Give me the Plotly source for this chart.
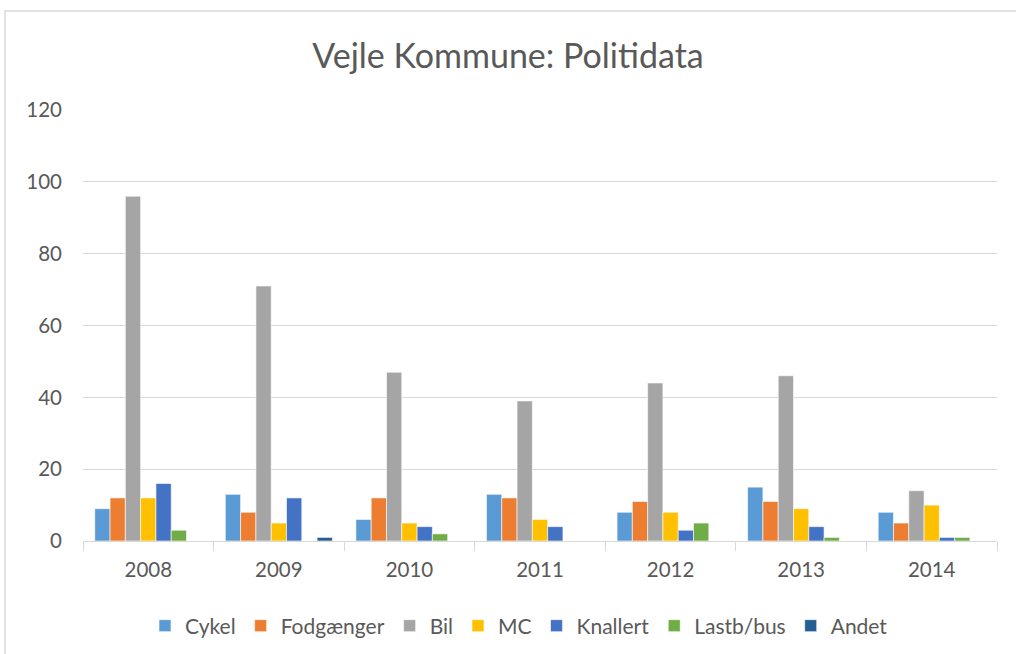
import plotly.graph_objects as go

years = ["2008", "2009", "2010", "2011", "2012", "2013", "2014"]
cykel = [9, 13, 6, 13, 8, 15, 8]
fodgaenger = [12, 8, 12, 12, 11, 11, 5]
bil = [96, 71, 47, 39, 44, 46, 14]
mc = [12, 5, 5, 6, 8, 9, 10]
knallert = [16, 12, 4, 4, 3, 4, 1]
lastb_bus = [3, 0, 2, 0, 5, 1, 1]
andet = [0, 1, 0, 0, 0, 0, 0]

series = [
    ("Cykel", cykel, "#5B9BD5"),
    ("Fodgænger", fodgaenger, "#ED7D31"),
    ("Bil", bil, "#A5A5A5"),
    ("MC", mc, "#FFC000"),
    ("Knallert", knallert, "#4472C4"),
    ("Lastb/bus", lastb_bus, "#70AD47"),
    ("Andet", andet, "#255E91"),
]

fig = go.Figure()
for name, vals, col in series:
    fig.add_trace(go.Bar(x=years, y=vals, name=name,
                         marker=dict(color=col, line=dict(color="white", width=0.6))))

L, R, T, B = 83, 19, 110, 113
W, H = 1016, 654
pw, ph = W - L - R, H - T - B

def px2paper_x(px):
    return (px - L) / pw

def px2paper_y(py):
    return (H - B - py) / ph

fig.update_layout(
    width=W, height=H,
    margin=dict(l=L, r=R, t=T, b=B, autoexpand=False),
    paper_bgcolor="white", plot_bgcolor="white",
    barmode="group", bargap=0.18, bargroupgap=0,
    font=dict(family="Lato, 'Open Sans', sans-serif", color="#595959", size=20),
    title=dict(text="Vejle Kommune: Politidata", x=0.5, xanchor="center",
               y=1 - 56 / H, yanchor="middle",
               font=dict(size=34, color="#595959")),
    legend=dict(orientation="h", x=px2paper_x(519), xanchor="center", y=px2paper_y(626), yanchor="middle",
                font=dict(size=21, color="#595959"), traceorder="normal",
                itemwidth=30),
    showlegend=True,
    xaxis=dict(type="category", showgrid=False, showline=True, linecolor="#D9D9D9", linewidth=1,
               ticks="outside", tickson="boundaries", ticklen=9, tickcolor="#D9D9D9",
               ticklabelstandoff=10,
               tickfont=dict(size=20.5, color="#595959")),
    yaxis=dict(range=[0, 120], dtick=20, showgrid=True, gridcolor="#D9D9D9", gridwidth=1,
               zeroline=False, showline=False, ticks="", ticklen=0,
               ticklabelstandoff=20,
               tickfont=dict(size=20.5, color="#595959")),
    shapes=[dict(type="path", xref="paper", yref="paper",
                 path=f"M {px2paper_x(5)} {px2paper_y(700)} L {px2paper_x(5)} {px2paper_y(11)} L {px2paper_x(1100)} {px2paper_y(11)}",
                 line=dict(color="#D9D9D9", width=1.5))],
)

fig.write_html("out.html", config={"displayModeBar": False},
               post_script="document.body.style.margin='0';document.body.style.overflow='hidden';")
